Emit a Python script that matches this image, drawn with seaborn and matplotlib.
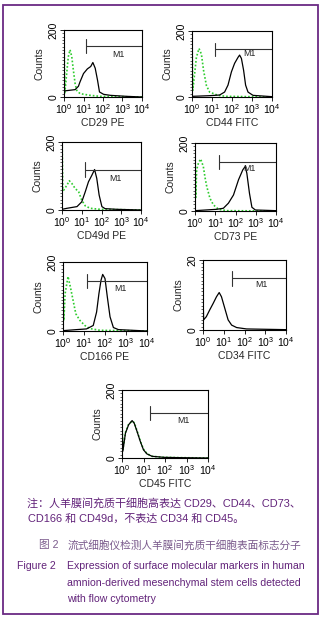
import numpy as np
import pandas as pd
import matplotlib
matplotlib.use("Agg")
import matplotlib.pyplot as plt
import seaborn as sns
from matplotlib.ticker import LogLocator, MultipleLocator, NullFormatter
from matplotlib.patches import Rectangle

# ---------------- data (log10 channel, counts) ----------------
cd29_black_exp = [0, 0.57, 0.74, 0.82, 1.0, 1.2, 1.37, 1.48, 1.6, 1.72, 1.82, 2.03, 2.37, 3.2, 4.0]
cd29_black_cnt = [18, 22, 32, 45, 70, 84, 91, 103, 86, 50, 15, 8, 5, 2, 0]
cd29_green_exp = [0, 0.04, 0.12, 0.22, 0.31, 0.4, 0.48, 0.57, 0.65, 0.82, 1.34, 1.85, 4.0]
cd29_green_cnt = [195, 10, 60, 120, 141, 120, 80, 40, 20, 10, 5, 2, 0]

cd44_black_exp = [0, 0.88, 1.38, 1.63, 1.8, 1.97, 2.13, 2.3, 2.38, 2.47, 2.58, 2.68, 2.8, 3.05, 4.0]
cd44_black_cnt = [2, 4, 6, 15, 36, 76, 102, 120, 127, 117, 81, 36, 15, 5, 1]
cd44_green_exp = [0, 0.04, 0.13, 0.22, 0.35, 0.47, 0.58, 0.72, 0.88, 1.3, 1.72, 4.0]
cd44_green_cnt = [180, 20, 70, 120, 147, 130, 80, 35, 15, 5, 2, 0]

cd49d_black_exp = [0, 0.25, 0.76, 1.0, 1.18, 1.34, 1.51, 1.65, 1.76, 1.88, 2.02, 2.18, 2.77, 4.0]
cd49d_black_cnt = [2, 5, 10, 24, 54, 83, 102, 119, 93, 44, 10, 4, 2, 0]
cd49d_green_exp = [0, 0.04, 0.08, 0.25, 0.37, 0.5, 0.67, 0.84, 1.0, 1.18, 1.43, 1.93, 4.0]
cd49d_green_cnt = [230, 60, 58, 73, 86, 78, 63, 54, 29, 12, 5, 2, 0]

cd73_black_exp = [0, 1.07, 1.4, 1.65, 1.9, 2.15, 2.36, 2.48, 2.56, 2.69, 2.81, 2.98, 4.0]
cd73_black_cnt = [1, 5, 8, 23, 47, 92, 121, 131, 111, 52, 11, 3, 1]
cd73_green_exp = [0, 0.04, 0.08, 0.17, 0.28, 0.41, 0.5, 0.58, 0.74, 0.91, 1.16, 1.57, 4.0]
cd73_green_cnt = [170, 40, 121, 141, 153, 131, 97, 72, 37, 18, 5, 1, 0]

cd166_black_exp = [0, 0.64, 1.12, 1.44, 1.6, 1.71, 1.81, 1.89, 2.0, 2.11, 2.24, 2.4, 2.64, 4.0]
cd166_black_cnt = [1, 4, 6, 16, 55, 108, 147, 164, 152, 99, 41, 10, 4, 0]
cd166_green_exp = [0, 0.04, 0.1, 0.24, 0.35, 0.48, 0.61, 0.8, 1.04, 1.28, 1.76, 4.0]
cd166_green_cnt = [110, 30, 108, 158, 128, 89, 50, 31, 16, 7, 2, 0]

cd34_black_exp = [0, 0.03, 0.16, 0.32, 0.49, 0.65, 0.78, 0.89, 1.05, 1.21, 1.38, 1.62, 2.1, 4.0]
cd34_black_cnt = [11, 2.9, 3.8, 5.7, 7.6, 9.5, 10.7, 9.5, 6.2, 2.9, 1.4, 0.7, 0.3, 0.1]

cd45_black_exp = [0, 0.04, 0.16, 0.31, 0.47, 0.57, 0.7, 0.85, 1.0, 1.16, 1.4, 1.94, 2.7, 4.0]
cd45_black_cnt = [110, 20, 73, 98, 110, 102, 78, 49, 24, 12, 5, 2, 1, 0]
cd45_green_exp = [0, 0.04, 0.16, 0.31, 0.47, 0.57, 0.7, 0.85, 1.0, 1.16, 1.4, 1.94, 2.7, 4.0]
cd45_green_cnt = [115, 25, 75, 100, 108, 104, 80, 50, 26, 13, 5, 2, 1, 0]

# M1 gate: start (log10), level, label position (log10, count)
m1_start = {"CD29 PE": 1.13, "CD44 FITC": 1.13, "CD49d PE": 1.14, "CD73 PE": 1.19,
            "CD166 PE": 1.12, "CD34 FITC": 1.41, "CD45 FITC": 1.29}
m1_level = {"CD29 PE": 151, "CD44 FITC": 144, "CD49d PE": 119, "CD73 PE": 144,
            "CD166 PE": 145, "CD34 FITC": 14.8, "CD45 FITC": 132}
m1_text = {"CD29 PE": (2.8, 128), "CD44 FITC": (2.85, 132), "CD49d PE": (2.69, 93),
           "CD73 PE": (2.69, 124), "CD166 PE": (2.75, 123), "CD34 FITC": (2.83, 13.1),
           "CD45 FITC": (2.87, 110)}
y_max = {"CD29 PE": 200, "CD44 FITC": 200, "CD49d PE": 200, "CD73 PE": 200,
         "CD166 PE": 200, "CD34 FITC": 20, "CD45 FITC": 200}

caption_cn1 = "注：人羊膜间充质干细胞高表达 CD29、CD44、CD73、"
caption_cn2 = "CD166 和 CD49d，不表达 CD34 和 CD45。"
caption_cn3_a = "图 2"
caption_cn3_b = "流式细胞仪检测人羊膜间充质干细胞表面标志分子"
caption_en_a = "Figure 2"
caption_en_lines = ["Expression of surface molecular markers in human",
                    "amnion-derived mesenchymal stem cells detected",
                    "with flow cytometry"]

# ---------------- styling ----------------
sns.set_style("ticks")
plt.rcParams['font.family'] = ['Liberation Sans', 'Noto Sans CJK SC', 'DejaVu Sans']
plt.rcParams['mathtext.fontset'] = 'custom'
plt.rcParams['mathtext.rm'] = 'Liberation Sans'
plt.rcParams['mathtext.it'] = 'Liberation Sans:italic'
plt.rcParams['mathtext.bf'] = 'Liberation Sans:bold'

W, H = 324, 619
fig = plt.figure(figsize=(W / 100, H / 100), dpi=100)
fig.patch.set_facecolor('white')


def add_ax(l, r, t, b):
    return fig.add_axes([l / W, 1 - b / H, (r - l) / W, (b - t) / H])


panels = [
    ("CD29 PE", (64, 142, 30, 97), cd29_black_exp, cd29_black_cnt, cd29_green_exp, cd29_green_cnt),
    ("CD44 FITC", (192, 272, 31, 97), cd44_black_exp, cd44_black_cnt, cd44_green_exp, cd44_green_cnt),
    ("CD49d PE", (62, 141, 142, 210), cd49d_black_exp, cd49d_black_cnt, cd49d_green_exp, cd49d_green_cnt),
    ("CD73 PE", (195, 276, 143, 211), cd73_black_exp, cd73_black_cnt, cd73_green_exp, cd73_green_cnt),
    ("CD166 PE", (63, 147, 262, 331), cd166_black_exp, cd166_black_cnt, cd166_green_exp, cd166_green_cnt),
    ("CD34 FITC", (203, 286, 260, 330), cd34_black_exp, cd34_black_cnt, None, None),
    ("CD45 FITC", (122, 208, 390, 458), cd45_black_exp, cd45_black_cnt, cd45_green_exp, cd45_green_cnt),
]

for name, box, be, bc, ge, gc in panels:
    ax = add_ax(*box)
    ymax = y_max[name]
    if ge is not None:
        gdf = pd.DataFrame({"exp": ge, "count": gc})
        gdf["intensity"] = 10.0 ** gdf["exp"]
        sns.lineplot(data=gdf, x="intensity", y="count", ax=ax, color="#2ecc2e",
                     lw=1.2, linestyle=(0, (1, 1.2)), sort=False, estimator=None)
    bdf = pd.DataFrame({"exp": be, "count": bc})
    bdf["intensity"] = 10.0 ** bdf["exp"]
    sns.lineplot(data=bdf, x="intensity", y="count", ax=ax, color="black",
                 lw=0.9, sort=False, estimator=None)
    ax.set_xscale('log')
    ax.set_xlim(1, 1e4)
    ax.set_ylim(0, ymax)
    # M1 gate
    x0 = 10 ** m1_start[name]
    lvl = m1_level[name]
    half = ymax * 0.105
    ax.plot([x0, 1e4], [lvl, lvl], color="#333333", lw=0.8)
    ax.plot([x0, x0], [lvl - half, lvl + half], color="#333333", lw=0.8)
    tx, ty = m1_text[name]
    ax.text(10 ** tx, ty, "M1", fontsize=6.3, ha='center', va='center', color='#222222')
    # axes decoration
    ax.set_xticks([1, 10, 100, 1000, 10000])
    ax.xaxis.set_minor_locator(LogLocator(base=10, subs=np.arange(2, 10)))
    ax.xaxis.set_minor_formatter(NullFormatter())
    ax.set_yticks([0, ymax])
    ax.set_yticklabels(["0", str(ymax)])
    ax.yaxis.set_minor_locator(MultipleLocator(ymax / 20))
    ax.tick_params(axis='both', which='major', direction='out', length=3, width=0.6,
                   labelsize=7.5, pad=1, colors='black')
    ax.tick_params(axis='both', which='minor', direction='out', length=1.5, width=0.5)
    ax.tick_params(axis='y', labelrotation=90)
    for lbl in ax.get_yticklabels():
        lbl.set_va('center')
    for s in ax.spines.values():
        s.set_visible(True)
        s.set_linewidth(0.8)
        s.set_color('black')
    ax.set_xlabel(name, fontsize=7.5, labelpad=1)
    ax.set_ylabel("Counts", fontsize=7.5, labelpad=3)
    ax.set_facecolor('white')

# border
fig.add_artist(Rectangle((3 / W, 1 - 614 / H), (318 - 3) / W, (614 - 5) / H,
                         transform=fig.transFigure, fill=False, ec="#6a2a84", lw=1.3))

cap_col = "#62237a"
fig.text(27 / W, 1 - 503 / H, caption_cn1, fontsize=7.95, color=cap_col, va='center', ha='left')
fig.text(28 / W, 1 - 519 / H, caption_cn2, fontsize=7.95, color=cap_col, va='center', ha='left')
fig.text(39 / W, 1 - 545 / H, caption_cn3_a, fontsize=7.7, color="#7a5a8c", va='center', ha='left')
fig.text(68 / W, 1 - 545 / H, caption_cn3_b, fontsize=7.7, color="#7a5a8c", va='center', ha='left')
fig.text(17 / W, 1 - 566 / H, caption_en_a, fontsize=7.55, color=cap_col, va='center', ha='left')
for i, line in enumerate(caption_en_lines):
    fig.text(67 / W, 1 - (566 + 16.5 * i) / H, line, fontsize=7.55, color=cap_col, va='center', ha='left')

fig.savefig("out.png", dpi=100)
